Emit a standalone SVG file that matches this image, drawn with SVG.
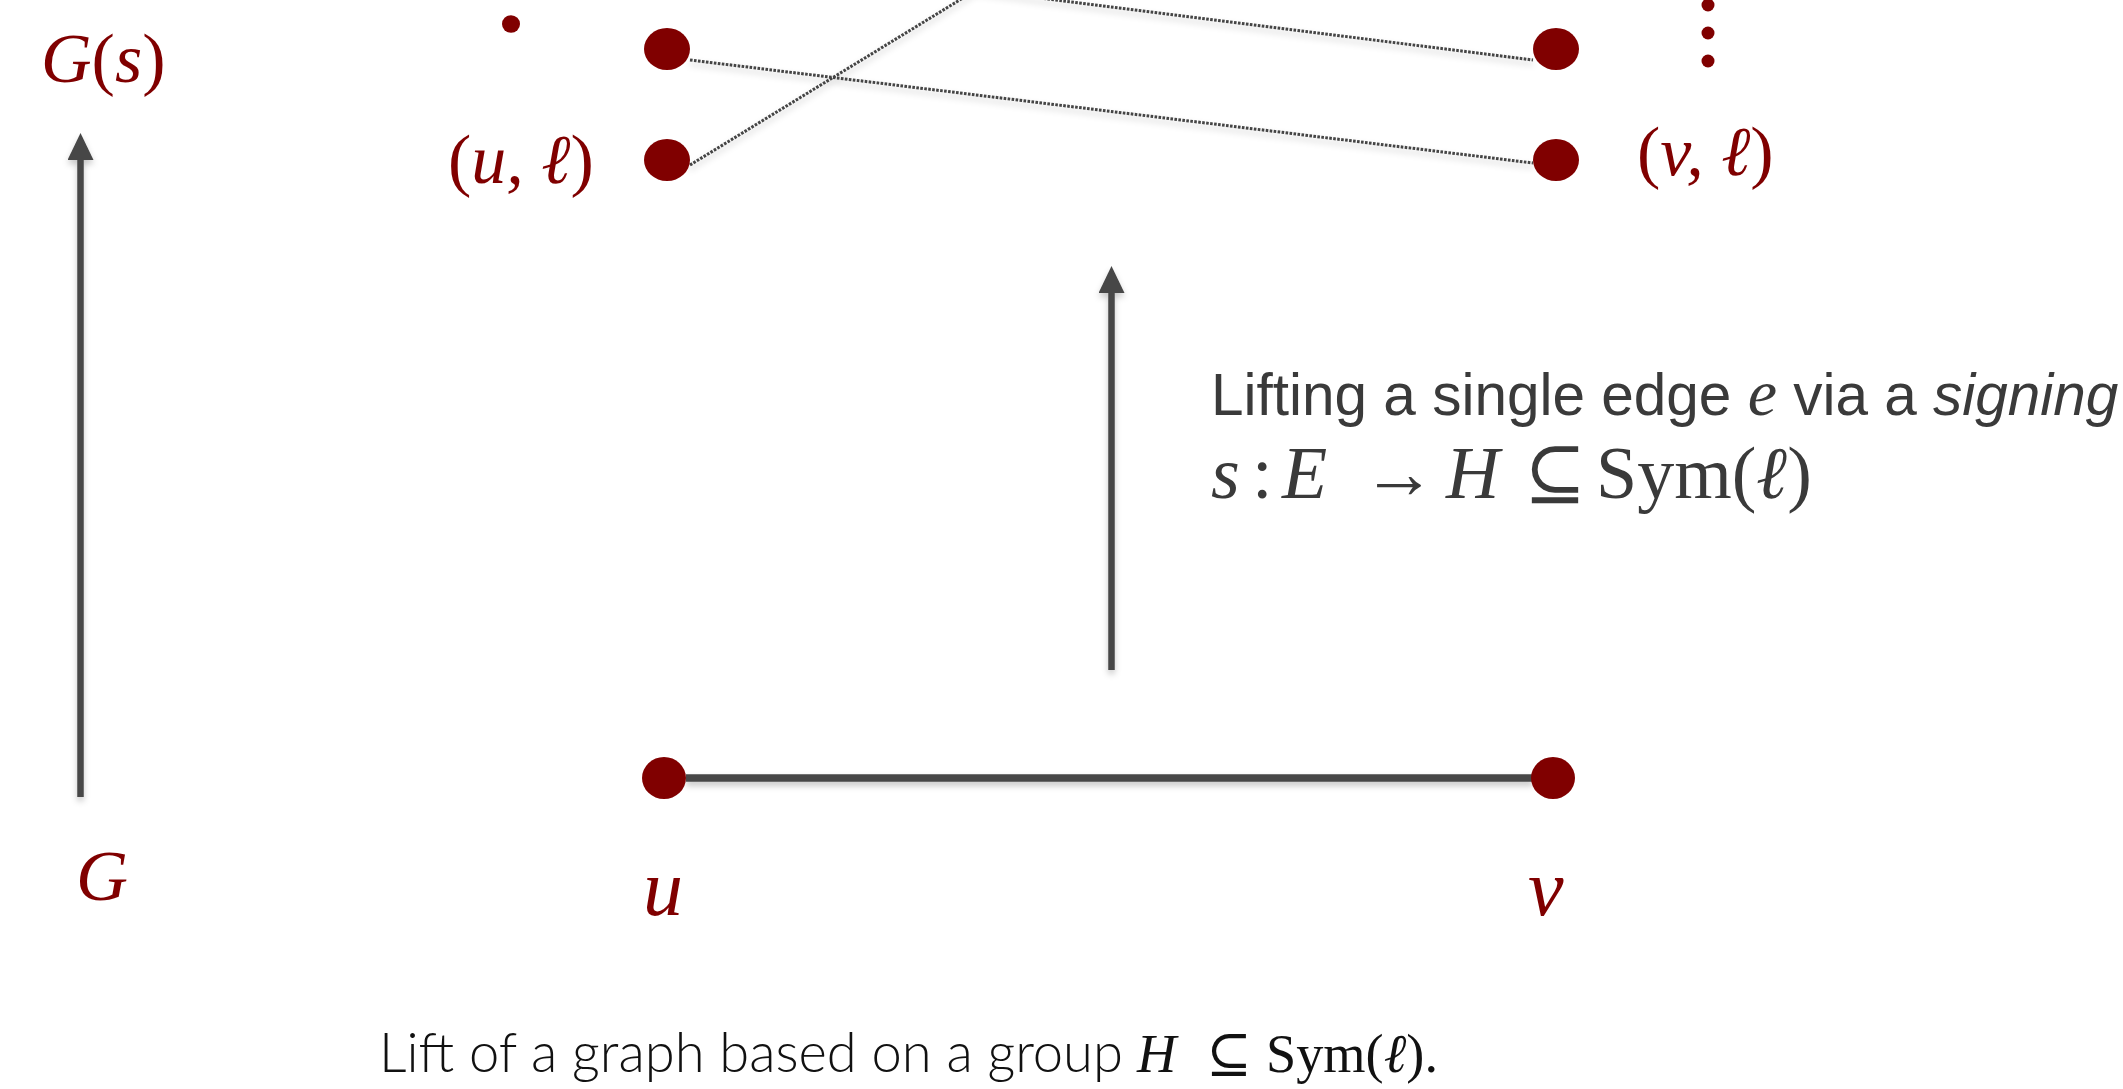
<svg xmlns="http://www.w3.org/2000/svg" width="2123" height="1089" viewBox="0 0 2123 1089">
<style>
.node{fill:#800000}
.lbl{fill:#800000;font-family:"Liberation Serif","DejaVu Serif",serif;font-style:italic}
.math{font-family:"Liberation Serif","DejaVu Serif",serif}
.dot{fill:none;stroke:#444;stroke-width:3;stroke-dasharray:2.6 1.4}
.arrow{stroke:#464646;stroke-width:6.5;fill:none}
.sans{font-family:"Liberation Sans",Arial,sans-serif;fill:#3a3a3a}
.cap{font-family:Lato,"Open Sans",sans-serif;font-weight:300;fill:#111}
</style>
<defs>
<filter id="sh" x="-20%" y="-50%" width="140%" height="200%">
<feDropShadow dx="0" dy="4" stdDeviation="3" flood-color="#000" flood-opacity="0.22"/>
</filter>
<marker id="ah" viewBox="0 0 27 26" refX="0" refY="13" markerWidth="27" markerHeight="26" markerUnits="userSpaceOnUse" orient="auto">
<path d="M0,0 L27,13 L0,26 z" fill="#464646"/>
</marker>
</defs>
<rect width="2123" height="1089" fill="#fff"/>
<g id="connectors" filter="url(#sh)">
<line class="dot" x1="690" y1="165" x2="976" y2="-10"/>
<line class="dot" x1="976" y1="-10" x2="1533" y2="60"/>
<line class="dot" x1="690" y1="60" x2="1533" y2="163"/>
<line class="arrow" x1="80.5" y1="797" x2="80.5" y2="160" marker-end="url(#ah)"/>
<line class="arrow" x1="1111.5" y1="670" x2="1111.5" y2="293" marker-end="url(#ah)"/>
<line x1="686" y1="778" x2="1533" y2="778" stroke="#464646" stroke-width="7.5"/>
</g>
<g id="node-dot-small"><ellipse class="node" cx="511" cy="24" rx="9" ry="8.7"/></g>
<g id="node-u1"><ellipse class="node" cx="667" cy="49" rx="23" ry="21"/></g>
<g id="node-ul"><ellipse class="node" cx="667" cy="160" rx="23" ry="21"/><text class="lbl" x="448" y="183" font-size="70"><tspan font-style="normal">(</tspan>u, ℓ<tspan font-style="normal">)</tspan></text></g>
<g id="node-v1"><ellipse class="node" cx="1556" cy="49" rx="23" ry="21"/></g>
<g id="node-vl"><ellipse class="node" cx="1556" cy="160" rx="23" ry="21"/><text class="lbl" x="1637" y="175" font-size="70"><tspan font-style="normal">(</tspan>v, ℓ<tspan font-style="normal">)</tspan></text></g>
<g id="vdots"><circle class="node" cx="1708" cy="5" r="6.5"/><circle class="node" cx="1708" cy="33" r="6.5"/><circle class="node" cx="1708" cy="61" r="6.5"/></g>
<g id="label-Gs"><text class="lbl" x="41" y="82" font-size="70">G<tspan font-style="normal">(</tspan>s<tspan font-style="normal">)</tspan></text></g>
<g id="label-G"><text class="lbl" x="76" y="900" font-size="72">G</text></g>
<g id="node-u"><ellipse class="node" cx="664" cy="778" rx="22" ry="21"/><text class="lbl" x="643" y="915" font-size="80">u</text></g>
<g id="node-v"><ellipse class="node" cx="1553" cy="778" rx="22" ry="21"/><text class="lbl" x="1528" y="915" font-size="80">v</text></g>
<g id="desc">
<text class="sans" x="1211" y="415" font-size="58.5">Lifting a single edge <tspan class="math" font-style="italic" font-size="66">e</tspan> via a <tspan font-style="italic">signing</tspan></text>
<text class="math" y="498" font-size="74" fill="#3a3a3a"><tspan x="1211" font-style="italic">s</tspan><tspan x="1252">:</tspan><tspan x="1282" font-style="italic">E</tspan><tspan x="1362">→</tspan><tspan x="1446" font-style="italic">H</tspan><tspan x="1524">⊆</tspan><tspan x="1596">Sym(<tspan font-style="italic">ℓ</tspan>)</tspan></text>
</g>
<g id="caption">
<text class="cap" y="1072" font-size="54.3"><tspan x="379">Lift of a graph based on a group</tspan><tspan class="math" x="1137" font-style="italic" font-weight="normal">H</tspan><tspan class="math" x="1206" font-weight="normal">⊆</tspan><tspan class="math" x="1266" font-weight="normal">Sym(<tspan font-style="italic">ℓ</tspan>).</tspan></text>
</g>
</svg>
